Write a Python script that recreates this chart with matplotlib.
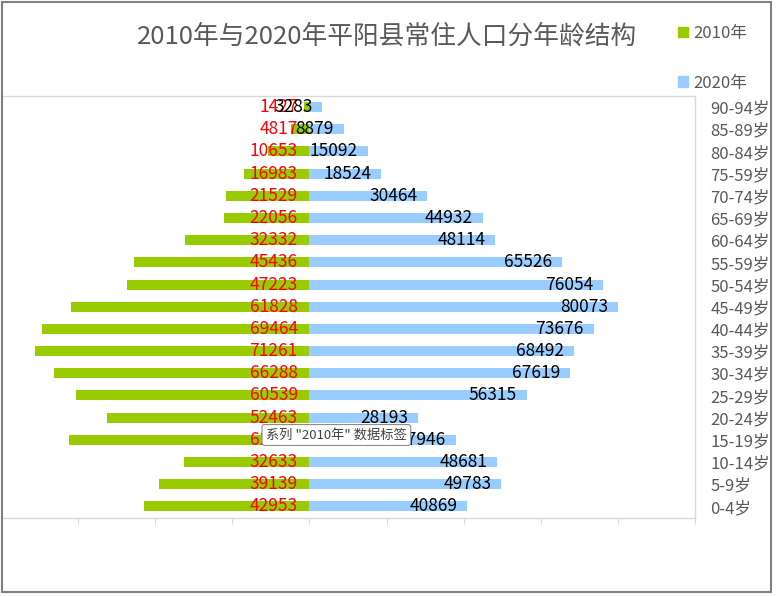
import numpy as np
import matplotlib
matplotlib.use("Agg")
import matplotlib.pyplot as plt
from matplotlib.patches import Rectangle, Patch

plt.rcParams['font.family'] = ['Noto Sans CJK SC', 'DejaVu Sans']

# --------------------------------
# DATA (top row first)
# --------------------------------
ages = ["90-94岁", "85-89岁", "80-84岁", "75-59岁", "70-74岁", "65-69岁",
        "60-64岁", "55-59岁", "50-54岁", "45-49岁", "40-44岁", "35-39岁",
        "30-34岁", "25-29岁", "20-24岁", "15-19岁", "10-14岁", "5-9岁", "0-4岁"]
pop_2010 = [1427, 4817, 10653, 16983, 21529, 22056, 32332, 45436, 47223, 61828,
            69464, 71261, 66288, 60539, 52463, 62300, 32633, 39139, 42953]
pop_2020 = [3283, 8879, 15092, 18524, 30464, 44932, 48114, 65526, 76054, 80073,
            73676, 68492, 67619, 56315, 28193, 37946, 48681, 49783, 40869]

W, H = 776, 596
green = "#99CC00"
blue = "#99CCFF"
grid_c = "#D9D9D9"
text_c = "#595959"

fig = plt.figure(figsize=(W / 100, H / 100), dpi=100)
ax = fig.add_axes([1 / W, 1 - 517.5 / H, 694 / W, (517.5 - 96) / H])

y = np.arange(len(ages))
ax.barh(y, -np.array(pop_2010), height=0.45, color=green, zorder=2)
ax.barh(y, pop_2020, height=0.45, color=blue, zorder=2)

# data labels: 2010 at the base (red), 2020 inside the bar end (black)
for yi, v in zip(y, pop_2010):
    ax.annotate(str(v), (0, yi), xytext=(-8.5, 0), textcoords="offset points",
                ha="right", va="center", color="red", fontsize=12.5, zorder=3)
for yi, v in zip(y, pop_2020):
    ax.annotate(str(v), (v, yi), xytext=(-7, 0), textcoords="offset points",
                ha="right", va="center", color="black", fontsize=12.5, zorder=3)

ax.set_xlim(-80000, 100000)
ax.set_ylim(len(ages) - 0.5, -0.5)
ax.set_xticks(np.arange(-80000, 100001, 20000))
ax.tick_params(axis="x", direction="out", length=4, color=grid_c, labelbottom=False)
ax.yaxis.tick_right()
ax.set_yticks(y)
ax.set_yticklabels(ages)
ax.tick_params(axis="y", length=0, pad=11, labelsize=12, labelcolor=text_c)
for s in ["top", "right", "bottom"]:
    ax.spines[s].set_color(grid_c)
    ax.spines[s].set_linewidth(1)
ax.spines["left"].set_visible(False)

# title
fig.text(387 / W, 1 - 37 / H, "2010年与2020年平阳县常住人口分年龄结构",
         ha="center", va="center", fontsize=18.5, color=text_c)

# legend
handles = [Patch(color=green, label="2010年"), Patch(color=blue, label="2020年")]
fig.legend(handles=handles, loc="upper left", bbox_to_anchor=(663 / W, 1 - 10 / H),
           frameon=False, fontsize=12, labelcolor=text_c, handlelength=0.6,
           handleheight=0.6, handletextpad=0.3, labelspacing=1.95)

# tooltip left over the 15-19 label
fig.text(266 / W, 1 - 435 / H, "系列 \"2010年\" 数据标签", ha="left", va="center",
         fontsize=9.5, color="#404040", zorder=10,
         bbox=dict(boxstyle="round,pad=0.3,rounding_size=0.2", fc="white", ec="#8C8C8C", lw=0.8))

# outer chart border
fig.patches.append(Rectangle((2 / W, 1 - 592 / H), 769 / W, 590 / H, transform=fig.transFigure,
                             fill=False, ec="#808080", lw=1.5))

fig.savefig("out.png", dpi=100)
